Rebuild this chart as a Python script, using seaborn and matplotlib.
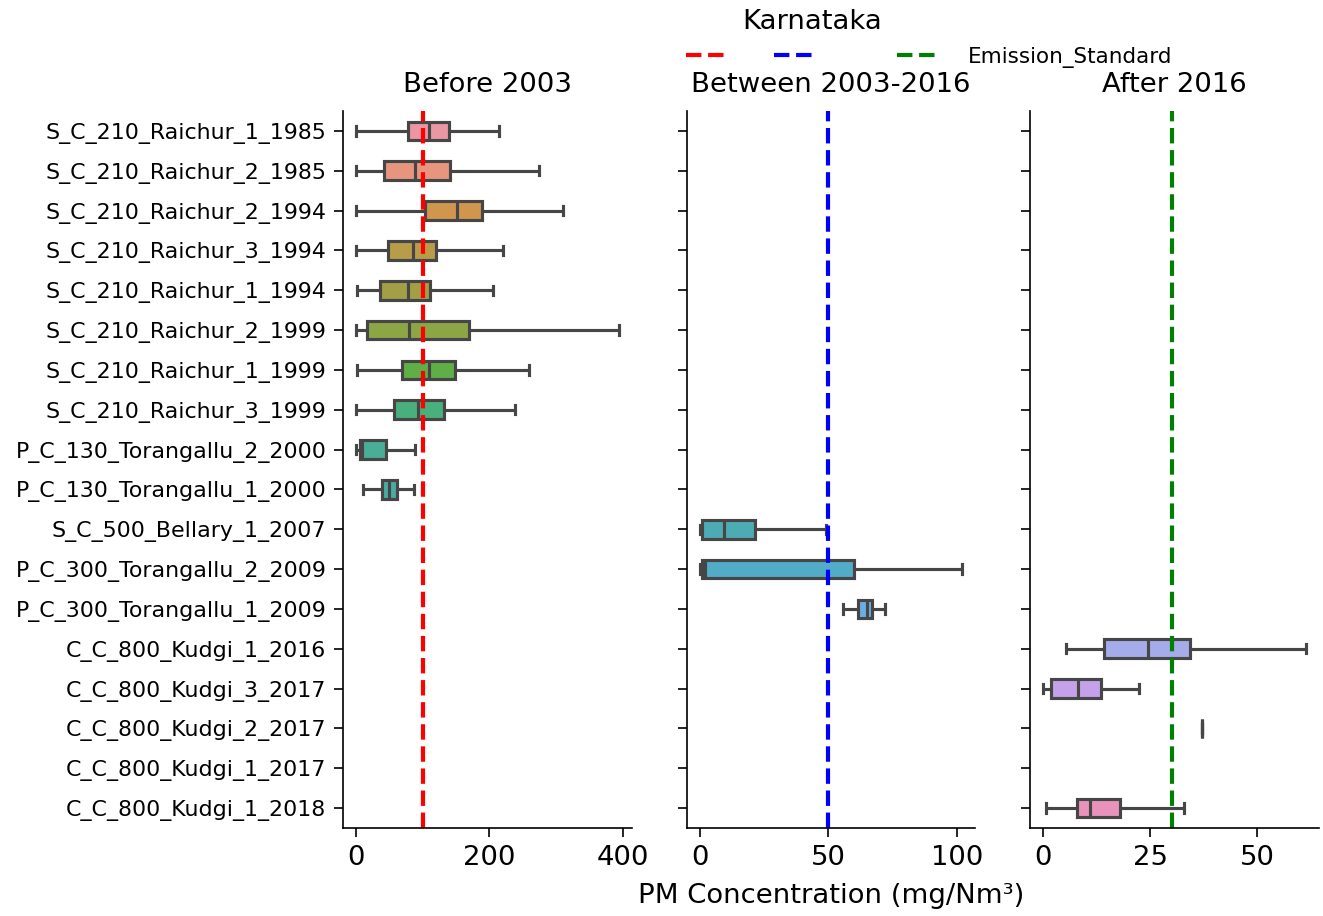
import matplotlib
matplotlib.use("Agg")
import matplotlib.pyplot as plt
import seaborn as sns
import pandas as pd
import numpy as np
from matplotlib.lines import Line2D

# stations in the order they appear on the y axis
stations = [
    "S_C_210_Raichur_1_1985", "S_C_210_Raichur_2_1985", "S_C_210_Raichur_2_1994",
    "S_C_210_Raichur_3_1994", "S_C_210_Raichur_1_1994", "S_C_210_Raichur_2_1999",
    "S_C_210_Raichur_1_1999", "S_C_210_Raichur_3_1999", "P_C_130_Torangallu_2_2000",
    "P_C_130_Torangallu_1_2000", "S_C_500_Bellary_1_2007", "P_C_300_Torangallu_2_2009",
    "P_C_300_Torangallu_1_2009", "C_C_800_Kudgi_1_2016", "C_C_800_Kudgi_3_2017",
    "C_C_800_Kudgi_2_2017", "C_C_800_Kudgi_1_2017", "C_C_800_Kudgi_1_2018",
]
periods = ["Before 2003"] * 10 + ["Between 2003-2016"] * 3 + ["After 2016"] * 5

# five-number summaries (nan = no data)
whisker_lo = [0, 0, 0, 0, 1, 0, 1, 0, 0, 10, 0, 0, 55.5, 5.2, 0, 37, np.nan, 0.5]
q1 = [78, 42, 103, 48, 36, 17, 69, 57, 6, 39, 1, 1, 61.6, 14.1, 1.7, 37, np.nan, 7.9]
median = [110, 88, 152, 85, 78, 80, 110, 93, 9, 50, 9.3, 2, 65, 24.4, 8.1, 37, np.nan, 10.8]
q3 = [140, 141, 189, 120, 111, 170, 149, 132, 45, 61, 21.5, 60, 66.8, 34.4, 13.4, 37, np.nan, 18]
whisker_hi = [214, 274, 310, 220, 205, 394, 259, 238, 89, 87, 49, 102, 72, 61.4, 22.3, 37, np.nan, 32.8]

period_names = ["Before 2003", "Between 2003-2016", "After 2016"]
standards = [100, 50, 30]
standard_colors = ["red", "blue", "green"]

rows = []
for st, per, a, b, c, d, e in zip(stations, periods, whisker_lo, q1, median, q3, whisker_hi):
    if np.isnan(c):
        continue
    for v in (a, b, c, d, e):
        rows.append({"station": st, "period": per, "value": v})
df = pd.DataFrame(rows)

palette = dict(zip(stations, sns.husl_palette(len(stations), l=0.7)))

fig, axes = plt.subplots(1, 3, sharey=True, figsize=(8.82, 6.107), dpi=150)
fig.subplots_adjust(left=343 / 1323, right=1319 / 1323, bottom=1 - 828 / 916,
                    top=1 - 111 / 916, wspace=0.19)

for ax, per, limit, col in zip(axes, period_names, standards, standard_colors):
    sub = df[df["period"] == per]
    sns.boxplot(data=sub, x="value", y="station", hue="station", order=stations,
                hue_order=stations, palette=palette, width=0.47, linewidth=1.5,
                legend=False, ax=ax)
    ax.axvline(limit, color=col, ls="--", lw=2)
    ax.set_title(per, fontsize=13.2, pad=9)
    ax.set_xlabel("")
    ax.set_ylabel("")
    ax.tick_params(axis="x", labelsize=13.2, length=4.5)
    ax.tick_params(axis="y", labelsize=10.6, length=4.5)

axes[1].set_xlabel("PM Concentration (mg/Nm³)", fontsize=13.2, labelpad=6)
sns.despine(fig=fig)

handles = [Line2D([], [], color=c, ls="--", lw=2) for c in standard_colors]
fig.legend(handles, ["", "     ", "Emission_Standard"], loc="center left",
           bbox_to_anchor=(667 / 1323, 1 - 57 / 916), ncol=3, frameon=False,
           fontsize=10.3, columnspacing=0.8, handletextpad=1.3)
fig.text(812 / 1323, 1 - 22 / 916, "Karnataka", ha="center", va="center", fontsize=13.2)

fig.savefig("out.png", dpi=150)
